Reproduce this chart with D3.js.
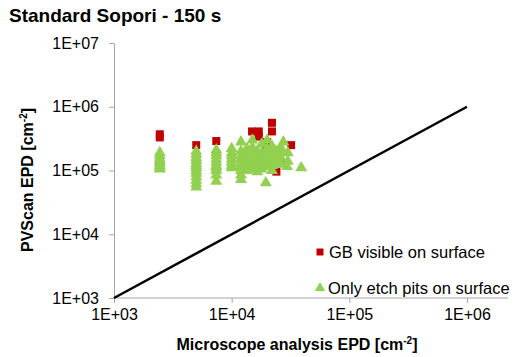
<!DOCTYPE html>
<html>
<head>
<meta charset="utf-8">
<script src="https://cdn.jsdelivr.net/npm/d3@7/dist/d3.min.js"></script>
<style>
  body { margin: 0; background: #fff; }
  svg { font-family: Arial, "Liberation Sans", sans-serif; }
</style>
</head>
<body>
<svg id="chart"></svg>
<script>
// GB visible on surface (red squares)
var gbX = [2450, 2450, 2450, 5000, 7400, 7400, 14900, 17000, 17000, 22000, 22000, 19500, 32000, 26000, 24000, 20000];
var gbY = [3.7e5, 3.3e5, 1.5e5, 2.5e5, 2.9e5, 1.8e5, 4.1e5, 4.1e5, 3.4e5, 5.6e5, 4.1e5, 2.3e5, 2.5e5, 1.33e5, 9.6e4, 2.8e5];

// Only etch pits on surface (green triangles)
var pitsX = [
  2450, 2450, 2450, 2450, 2450, 2450, 2450, 2450,
  5000, 5000, 5000, 5000, 5000, 5000, 5000, 5000, 5000, 5000, 5000, 5000, 5000,
  7400, 7400, 7400, 7400, 7400, 7400, 7400, 7400, 7400, 7400,
  10000, 10000, 10000, 10000, 10000, 10000, 10000,
  12000, 12000, 12000, 12000, 12000, 12000, 12000, 12000, 12000,
  13500, 13500, 13500, 13500, 13500, 13500,
  15000, 15000, 15000, 15000, 15000, 15000,
  16500, 16500, 16500, 16500, 16500,
  18000, 18000, 18000, 18000, 18000,
  20000, 20000, 20000, 20000, 20000, 19500,
  22000, 22000, 22000, 22000, 22000,
  24000, 24000, 24000,
  26000, 26000, 26000,
  27500, 27500, 29500,
  30000, 30000,
  39000
];
var pitsY = [
  1.9e5, 1.7e5, 1.5e5, 1.4e5, 1.3e5, 1.2e5, 1.1e5, 1.05e5,
  2.0e5, 1.8e5, 1.6e5, 1.45e5, 1.3e5, 1.2e5, 1.1e5, 1.0e5, 9.0e4, 8.0e4, 7.0e4, 6.2e4, 5.5e4,
  2.1e5, 1.9e5, 1.7e5, 1.5e5, 1.35e5, 1.2e5, 1.1e5, 1.0e5, 8.5e4, 6.8e4,
  2.2e5, 1.9e5, 1.7e5, 1.5e5, 1.35e5, 1.2e5, 1.1e5,
  2.8e5, 2.0e5, 1.7e5, 1.5e5, 1.3e5, 1.15e5, 1.0e5, 8.5e4, 7.2e4,
  2.2e5, 1.8e5, 1.5e5, 1.3e5, 1.1e5, 1.0e5,
  3.0e5, 2.3e5, 1.8e5, 1.5e5, 1.25e5, 1.05e5,
  2.0e5, 1.6e5, 1.35e5, 1.1e5, 9.5e4,
  2.6e5, 1.9e5, 1.5e5, 1.25e5, 1.05e5,
  3.0e5, 2.2e5, 1.7e5, 1.4e5, 1.15e5, 6.4e4,
  2.4e5, 1.8e5, 1.45e5, 1.2e5, 1.0e5,
  2.0e5, 1.55e5, 1.25e5,
  2.3e5, 1.6e5, 1.3e5,
  2.8e5, 1.9e5, 1.15e5,
  1.9e5, 1.4e5,
  1.1e5
];

var xTicks = [1e3, 1e4, 1e5, 1e6];
var yTicks = [1e3, 1e4, 1e5, 1e6, 1e7];
var refLine = [1e3, 1e6];

var width = 516, height = 357;

var svg = d3.select("#chart")
  .attr("width", width)
  .attr("height", height);

var x = d3.scaleLog().domain([1e3, 1e6]).range([114, 467]);
var y = d3.scaleLog().domain([1e3, 1e7]).range([298, 43]);

function sci(d) {
  var e = Math.round(Math.log10(d));
  return "1E+" + (e < 10 ? "0" : "") + e;
}

// title
svg.append("text")
  .attr("x", 9)
  .attr("y", 22)
  .style("font-size", "19px")
  .style("font-weight", "bold")
  .text("Standard Sopori - 150 s");

// x axis
var xAxis = svg.append("g")
  .attr("transform", "translate(0," + y(1e3) + ")")
  .call(d3.axisBottom(x).tickValues(xTicks).tickFormat(sci).tickSize(5).tickSizeOuter(0).tickPadding(6));
xAxis.select(".domain").attr("d", "M" + x(1e3) + ",0H508");

// y axis
var yAxis = svg.append("g")
  .attr("transform", "translate(" + x(1e3) + ",0)")
  .call(d3.axisLeft(y).tickValues(yTicks).tickFormat(sci).tickSize(5).tickSizeOuter(0).tickPadding(10));

svg.selectAll(".domain, .tick line").attr("stroke", "#a6a6a6");
svg.selectAll(".tick text").style("font-size", "16px").attr("fill", "#000")
  .style("font-family", "Arial, 'Liberation Sans', sans-serif");

// reference line y = x
svg.append("line")
  .attr("x1", x(refLine[0])).attr("y1", y(refLine[0]))
  .attr("x2", x(refLine[1])).attr("y2", y(refLine[1]))
  .attr("stroke", "#000")
  .attr("stroke-width", 2.5);

var sq = d3.symbol().type(d3.symbolSquare).size(64);
var tri = d3.symbol().type(d3.symbolTriangle).size(62);

svg.append("g").selectAll("path")
  .data(d3.range(gbX.length))
  .enter().append("path")
  .attr("d", sq)
  .attr("transform", function (i) { return "translate(" + x(gbX[i]) + "," + y(gbY[i]) + ")"; })
  .attr("fill", "#c00000");

svg.append("g").selectAll("path")
  .data(d3.range(pitsX.length))
  .enter().append("path")
  .attr("d", tri)
  .attr("transform", function (i) { return "translate(" + x(pitsX[i]) + "," + y(pitsY[i]) + ")"; })
  .attr("fill", "#92d050");

// legend
var legend = svg.append("g");
legend.append("path").attr("d", d3.symbol().type(d3.symbolSquare).size(49)).attr("transform", "translate(320,252)").attr("fill", "#c00000");
legend.append("text").attr("x", 329).attr("y", 258).style("font-size", "16.5px").text("GB visible on surface");
legend.append("path").attr("d", d3.symbol().type(d3.symbolTriangle).size(48)).attr("transform", "translate(320,288)").attr("fill", "#92d050");
legend.append("text").attr("x", 328).attr("y", 294).style("font-size", "16.5px").text("Only etch pits on surface");

// axis titles
var xt = svg.append("text")
  .attr("x", 297)
  .attr("y", 350)
  .attr("text-anchor", "middle")
  .style("font-size", "16px")
  .style("font-weight", "bold");
xt.append("tspan").text("Microscope analysis EPD [cm");
xt.append("tspan").attr("dy", -6).style("font-size", "10px").text("-2");
xt.append("tspan").attr("dy", 6).text("]");

var yt = svg.append("text")
  .attr("transform", "translate(33,180) rotate(-90)")
  .attr("text-anchor", "middle")
  .style("font-size", "16px")
  .style("font-weight", "bold");
yt.append("tspan").text("PVScan EPD [cm");
yt.append("tspan").attr("dy", -6).style("font-size", "10px").text("-2");
yt.append("tspan").attr("dy", 6).text("]");
</script>
</body>
</html>
